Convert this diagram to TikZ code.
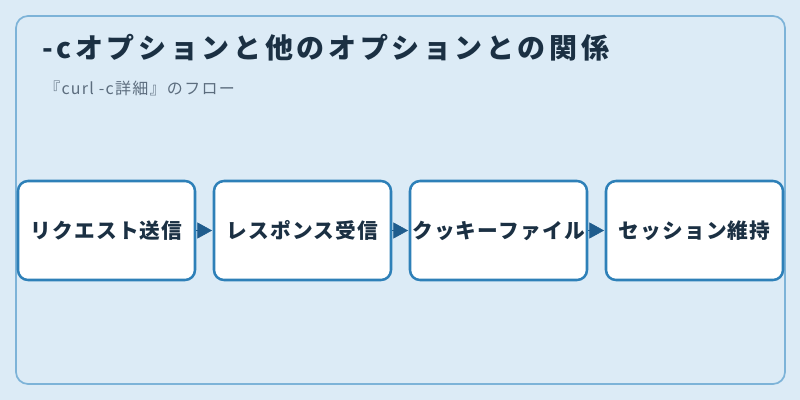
\documentclass[tikz,border=0pt]{standalone}
\usepackage{fontspec}
\setmainfont{Noto Sans CJK JP}
\usetikzlibrary{arrows.meta}
\definecolor{bgblue}{HTML}{DCEBF6}
\definecolor{frameblue}{HTML}{7DB3D8}
\definecolor{boxblue}{HTML}{2E80B8}
\definecolor{arrowblue}{HTML}{1F5C8D}
\definecolor{titleink}{HTML}{1B3043}
\definecolor{subink}{HTML}{5C6D7E}
\begin{document}
\begin{tikzpicture}[x=0.75pt,y=-0.75pt]

\tikzset{
  StepStyle/.style = { rectangle, rounded corners=7.5pt, draw=boxblue, fill=white,
                       line width=1.9pt, minimum width=132.75pt, minimum height=74.25pt,
                       inner sep=0pt, text=titleink,
                       font=\bfseries\fontsize{15.5}{18}\selectfont\addfontfeature{LetterSpace=6} },
  FlowStyle/.style = { draw=arrowblue, line width=0.4pt, shorten >=0.5pt,
                       -{Triangle[length=11pt,width=12pt]} } }

  \fill[bgblue] (0,0) rectangle (800,400);
  \useasboundingbox (0,0) rectangle (800,400);
  \draw[frameblue, line width=1.3pt, rounded corners=9pt] (16,16) rectangle (785,384);

  \node[anchor=base west, inner sep=0pt, text=titleink,
        font=\bfseries\fontsize{21}{24}\selectfont\addfontfeature{LetterSpace=13}] (title) at (42,58) {-cオプションと他のオプションとの関係};
  \node[anchor=base west, inner sep=0pt, text=subink,
        font=\fontsize{12}{14}\selectfont\addfontfeature{LetterSpace=8}] (sub) at (44,94) {『curl -c詳細』のフロー};

  \node[StepStyle] (st1) at (106.5, 230.5) {リクエスト送信};
  \node[StepStyle] (st2) at (302.5, 230.5) {レスポンス受信};
  \node[StepStyle] (st3) at (498.5, 230.5) {クッキーファイル};
  \node[StepStyle] (st4) at (694.5, 230.5) {セッション維持};

  \draw[FlowStyle] (st1) -- (st2);
  \draw[FlowStyle] (st2) -- (st3);
  \draw[FlowStyle] (st3) -- (st4);

\end{tikzpicture}
\end{document}
